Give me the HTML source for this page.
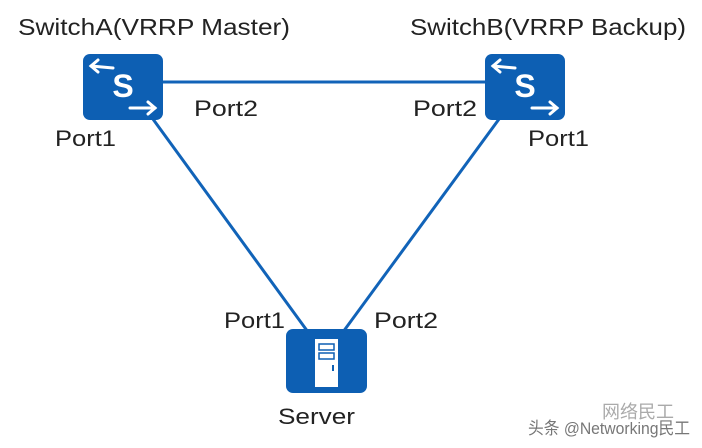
<!DOCTYPE html>
<html><head><style>
body{margin:0;background:#fff;}
svg{display:block}
text{font-family:"Liberation Sans","Noto Sans CJK SC",sans-serif;fill:#222;}
</style></head><body>
<svg width="702" height="448" viewBox="0 0 702 448">
<g stroke="#1163b8" stroke-width="3" fill="none">
<line x1="160" y1="82" x2="487" y2="82"/>
<line x1="150" y1="115" x2="308" y2="332"/>
<line x1="502" y1="115" x2="343" y2="332"/>
</g>
<rect x="83" y="54" width="80" height="66" rx="7" fill="#0d5fb3"/>
<rect x="485" y="54" width="80" height="66" rx="7" fill="#0d5fb3"/>
<rect x="286" y="329" width="81" height="64" rx="7" fill="#0d5fb3"/>
<g stroke="#fff" stroke-width="3" fill="none" stroke-linecap="round">
<line x1="91" y1="66" x2="113" y2="68"/><polyline points="98,60 91,66 98,72"/>
<line x1="130" y1="108" x2="155" y2="108"/><polyline points="148,102 155,108 148,114"/>
<line x1="493" y1="66" x2="515" y2="68"/><polyline points="500,60 493,66 500,72"/>
<line x1="532" y1="108" x2="557" y2="108"/><polyline points="550,102 557,108 550,114"/>
</g>
<text x="123" y="97" font-size="32" font-weight="bold" text-anchor="middle" style="fill:#fff">S</text>
<text x="525" y="97" font-size="32" font-weight="bold" text-anchor="middle" style="fill:#fff">S</text>
<rect x="315" y="339" width="23" height="48" fill="#fff"/>
<rect x="319" y="344" width="15" height="6" fill="none" stroke="#0d5fb3" stroke-width="1.5"/>
<rect x="319" y="353" width="15" height="6" fill="none" stroke="#0d5fb3" stroke-width="1.5"/>
<rect x="332" y="365" width="2" height="6" fill="#0d5fb3"/>
<text x="18" y="35" font-size="23" textLength="272" lengthAdjust="spacingAndGlyphs">SwitchA(VRRP Master)</text>
<text x="410" y="35" font-size="23" textLength="276" lengthAdjust="spacingAndGlyphs">SwitchB(VRRP Backup)</text>
<text x="194" y="116" font-size="22" textLength="64" lengthAdjust="spacingAndGlyphs">Port2</text>
<text x="413" y="116" font-size="22" textLength="64" lengthAdjust="spacingAndGlyphs">Port2</text>
<text x="55" y="146" font-size="22" textLength="61" lengthAdjust="spacingAndGlyphs">Port1</text>
<text x="528" y="146" font-size="22" textLength="61" lengthAdjust="spacingAndGlyphs">Port1</text>
<text x="224" y="328" font-size="22" textLength="61" lengthAdjust="spacingAndGlyphs">Port1</text>
<text x="374" y="328" font-size="22" textLength="64" lengthAdjust="spacingAndGlyphs">Port2</text>
<text x="278" y="424" font-size="22" textLength="77" lengthAdjust="spacingAndGlyphs">Server</text>
<text x="602" y="418" font-size="18" style="fill:#aaa">网络民工</text>
<text x="528" y="434" font-size="17" textLength="162" lengthAdjust="spacingAndGlyphs" style="fill:#777">头条 @Networking民工</text>
</svg>
</body></html>
